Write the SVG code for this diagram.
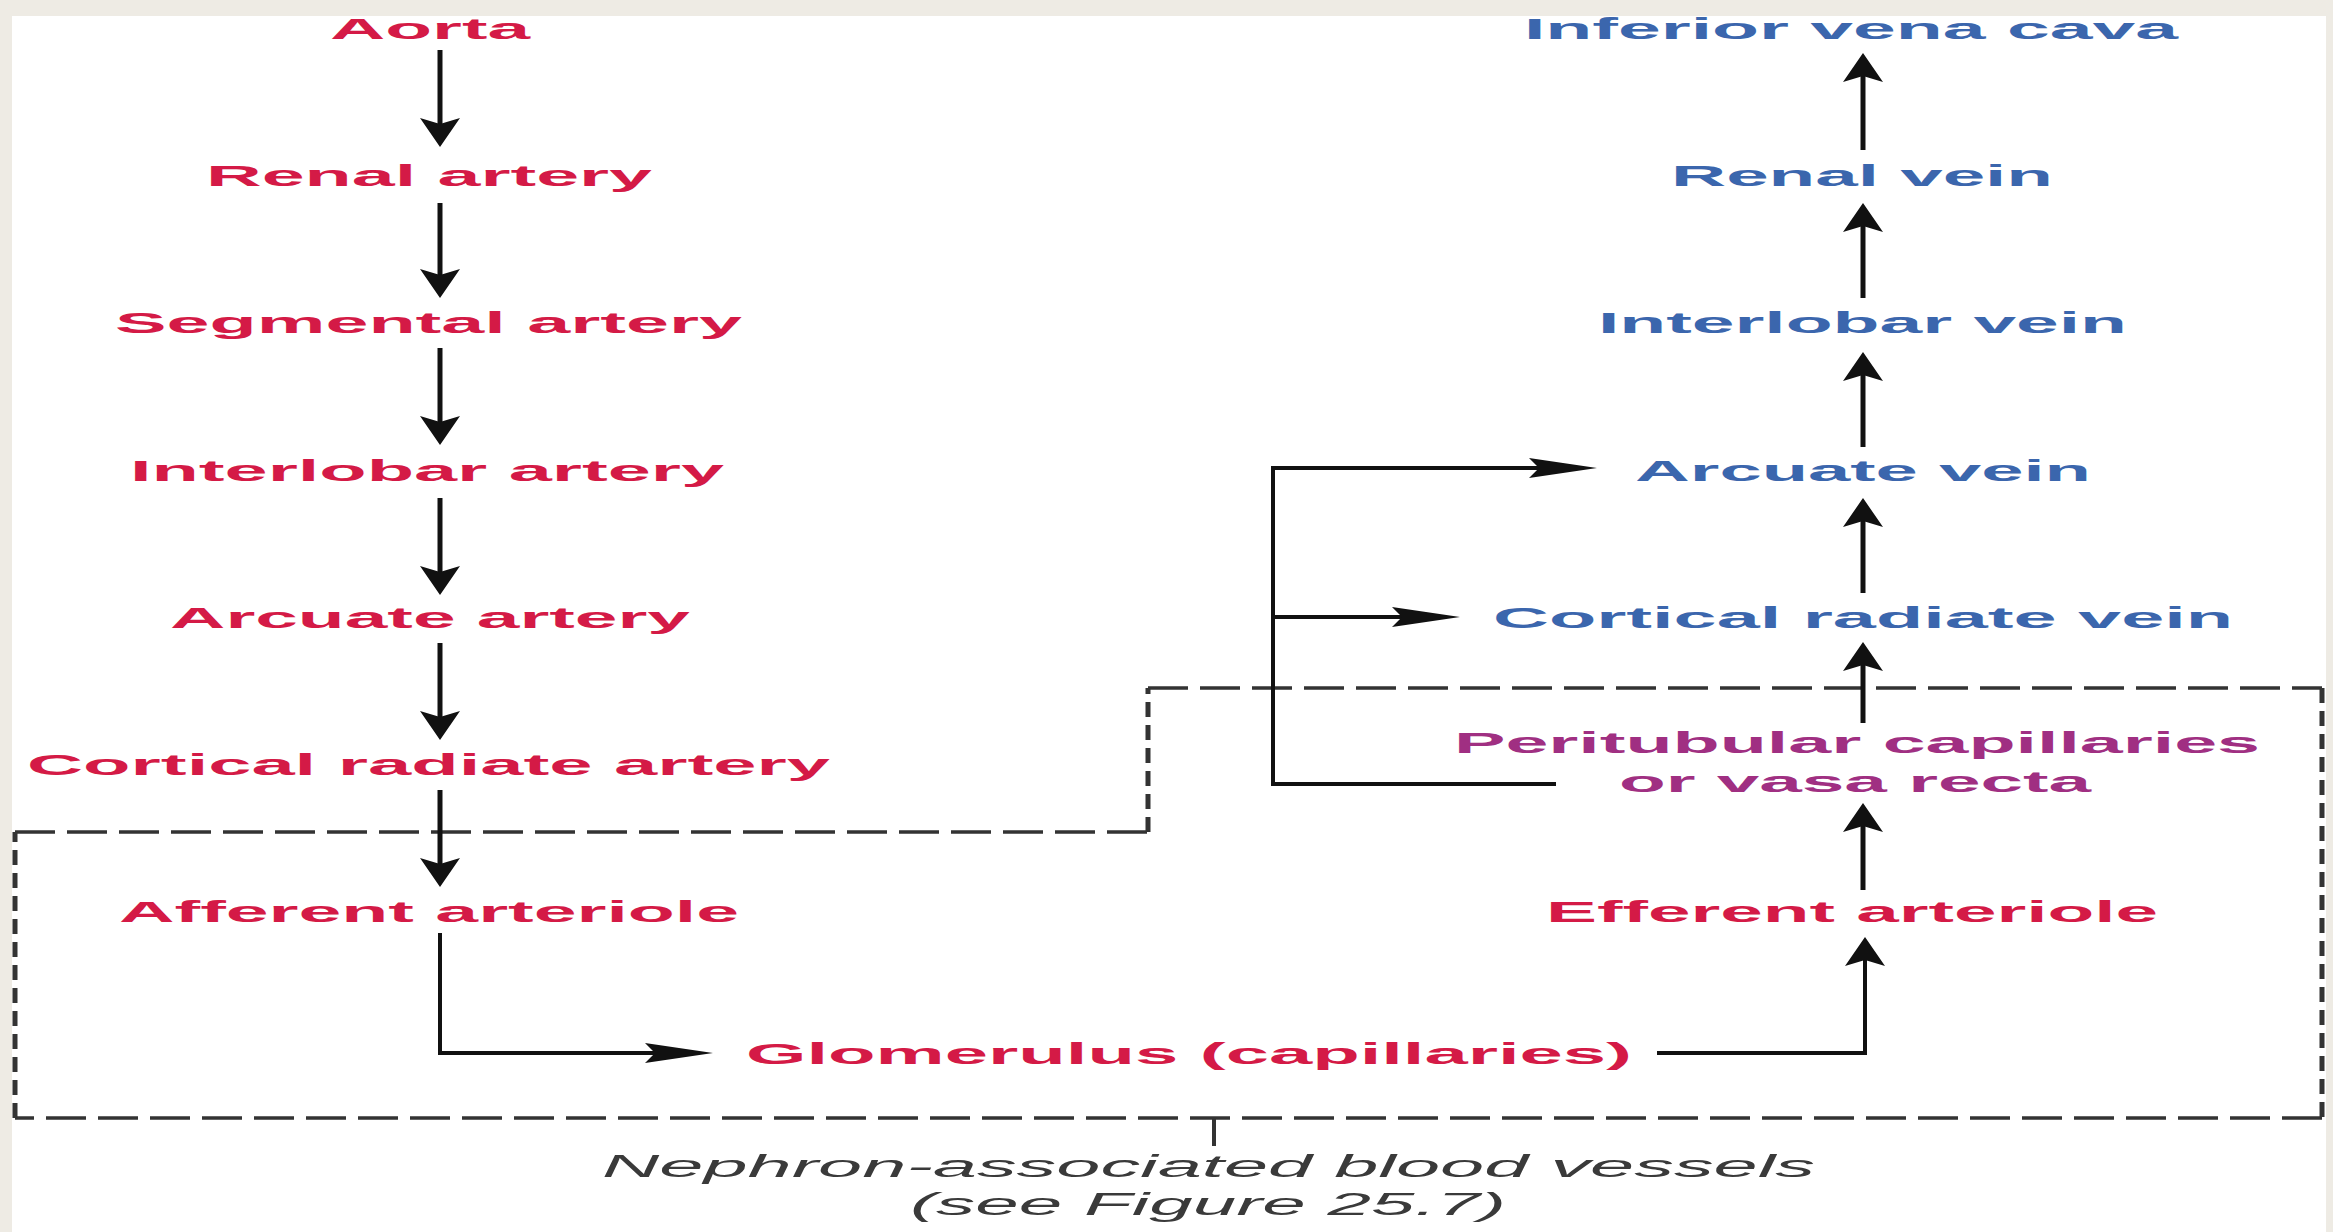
<svg xmlns="http://www.w3.org/2000/svg" width="2333" height="1232" viewBox="0 0 2333 1232">
<defs>
<style>
.t{font-family:"Liberation Sans",Arial,sans-serif;font-weight:bold;font-size:29px}
.r{fill:#d41a46}
.b{fill:#3b66ad}
.m{fill:#a02f82}
.cap{font-family:"Liberation Sans",Arial,sans-serif;font-style:italic;font-size:31px;fill:#3a3a3a}
.c{fill:none;stroke:#111;stroke-width:5}
.ch{fill:none;stroke:#111;stroke-width:4}
.dh{fill:none;stroke:#333;stroke-width:3.5;stroke-dasharray:40 12}
.dv{fill:none;stroke:#333;stroke-width:5;stroke-dasharray:15 8}
</style>
<marker id="av" markerUnits="userSpaceOnUse" viewBox="0 0 29 40" refX="6" refY="20" markerWidth="29" markerHeight="40" orient="auto">
<path d="M0,0 L29,20 L0,40 L6,20 Z" fill="#111"/>
</marker>
<marker id="ah" markerUnits="userSpaceOnUse" viewBox="0 0 68 20" refX="10" refY="10" markerWidth="68" markerHeight="20" orient="auto">
<path d="M0,0 L68,10 L0,20 L10,10 Z" fill="#111"/>
</marker>
</defs>
<rect width="2333" height="1232" fill="#eeebe4"/>
<rect x="12" y="16" width="2314" height="1216" fill="#ffffff"/>

<g id="nephron-box">
<path class="dh" d="M15,832 H1148"/>
<path class="dv" d="M1148,832 V688"/>
<path class="dh" d="M1148,688 H2322"/>
<path class="dv" d="M2322,688 V1118"/>
<path class="dh" d="M2322,1118 H15"/>
<path class="dv" d="M15,1118 V832"/>
<path d="M1214,1118 V1146" fill="none" stroke="#333" stroke-width="4"/>
</g>

<g id="connectors">
<path class="c" d="M440,50 V124" marker-end="url(#av)"/>
<path class="c" d="M440,203 V275" marker-end="url(#av)"/>
<path class="c" d="M440,348 V422" marker-end="url(#av)"/>
<path class="c" d="M440,498 V572" marker-end="url(#av)"/>
<path class="c" d="M440,643 V717" marker-end="url(#av)"/>
<path class="c" d="M440,790 V864" marker-end="url(#av)"/>
<path class="ch" d="M440,933 V1053 H655" marker-end="url(#ah)"/>
<path class="c" d="M1863,150 V76" marker-end="url(#av)"/>
<path class="c" d="M1863,298 V226" marker-end="url(#av)"/>
<path class="c" d="M1863,447 V375" marker-end="url(#av)"/>
<path class="c" d="M1863,593 V521" marker-end="url(#av)"/>
<path class="c" d="M1863,723 V665" marker-end="url(#av)"/>
<path class="c" d="M1863,890 V826" marker-end="url(#av)"/>
<path class="ch" d="M1657,1053 H1865 V960" marker-end="url(#av)"/>
<path class="ch" d="M1556,784 H1273 V468 H1539" marker-end="url(#ah)"/>
<path class="ch" d="M1273,617 H1402" marker-end="url(#ah)"/>
</g>

<g id="aorta"><text class="t r" x="330" y="39" textLength="200" lengthAdjust="spacingAndGlyphs">Aorta</text></g>
<g id="renal-artery"><text class="t r" x="206" y="186" textLength="446" lengthAdjust="spacingAndGlyphs">Renal artery</text></g>
<g id="segmental-artery"><text class="t r" x="115" y="333" textLength="627" lengthAdjust="spacingAndGlyphs">Segmental artery</text></g>
<g id="interlobar-artery"><text class="t r" x="130" y="481" textLength="594" lengthAdjust="spacingAndGlyphs">Interlobar artery</text></g>
<g id="arcuate-artery"><text class="t r" x="170" y="628" textLength="520" lengthAdjust="spacingAndGlyphs">Arcuate artery</text></g>
<g id="cortical-radiate-artery"><text class="t r" x="27" y="775" textLength="803" lengthAdjust="spacingAndGlyphs">Cortical radiate artery</text></g>
<g id="afferent-arteriole"><text class="t r" x="119" y="922" textLength="620" lengthAdjust="spacingAndGlyphs">Afferent arteriole</text></g>
<g id="glomerulus"><text class="t r" x="746" y="1064" textLength="886" lengthAdjust="spacingAndGlyphs">Glomerulus (capillaries)</text></g>
<g id="efferent-arteriole"><text class="t r" x="1546" y="922" textLength="612" lengthAdjust="spacingAndGlyphs">Efferent arteriole</text></g>
<g id="peritubular"><text class="t m" x="1454" y="753" textLength="806" lengthAdjust="spacingAndGlyphs">Peritubular capillaries</text><text class="t m" x="1619" y="792" textLength="472" lengthAdjust="spacingAndGlyphs">or vasa recta</text></g>
<g id="cortical-radiate-vein"><text class="t b" x="1493" y="628" textLength="740" lengthAdjust="spacingAndGlyphs">Cortical radiate vein</text></g>
<g id="arcuate-vein"><text class="t b" x="1635" y="481" textLength="456" lengthAdjust="spacingAndGlyphs">Arcuate vein</text></g>
<g id="interlobar-vein"><text class="t b" x="1598" y="333" textLength="529" lengthAdjust="spacingAndGlyphs">Interlobar vein</text></g>
<g id="renal-vein"><text class="t b" x="1671" y="186" textLength="382" lengthAdjust="spacingAndGlyphs">Renal vein</text></g>
<g id="inferior-vena-cava"><text class="t b" x="1524" y="39" textLength="654" lengthAdjust="spacingAndGlyphs">Inferior vena cava</text></g>

<g id="caption">
<text class="cap" x="602" y="1177" textLength="1213" lengthAdjust="spacingAndGlyphs">Nephron-associated blood vessels</text>
<text class="cap" x="910" y="1215" textLength="596" lengthAdjust="spacingAndGlyphs">(see Figure 25.7)</text>
</g>
</svg>
